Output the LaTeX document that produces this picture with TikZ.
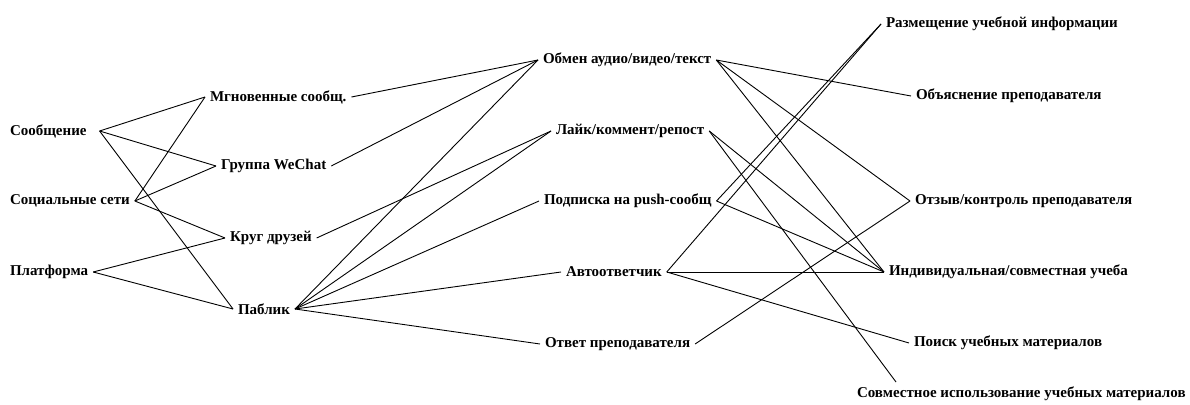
\documentclass[tikz,border=0pt]{standalone}
\usepackage{fontspec}
\setmainfont{Liberation Serif}
\begin{document}
\begin{tikzpicture}[x=1pt,y=-1pt,
  lbl/.style={anchor=west,inner sep=0pt,outer sep=5pt,font=\fontsize{15}{18}\selectfont\bfseries},
  link/.style={draw=black,line width=0.9pt}]
\useasboundingbox (0,0) rectangle (1190,404);
% column 1
\node[lbl] (c1a) at (5,131) {Сообщение};
\node[lbl] (c1b) at (5,201) {Социальные сети};
\node[lbl] (c1c) at (5,272) {Платформа};
\coordinate (c1aout) at ([xshift=8pt]c1a.east);
% column 2
\node[lbl] (c2a) at (205,97) {Мгновенные сообщ.};
\node[lbl] (c2b) at (216,166) {Группа WeChat};
\node[lbl] (c2c) at (225,238) {Круг друзей};
\node[lbl] (c2d) at (233,309) {Паблик};
% column 3
\node[lbl] (c3a) at (538,60) {Обмен аудио/видео/текст};
\node[lbl] (c3b) at (551,131) {Лайк/коммент/репост};
\node[lbl] (c3c) at (539,201) {Подписка на push-сообщ};
\node[lbl] (c3d) at (561,272) {Автоответчик};
\node[lbl] (c3e) at (540,344) {Ответ преподавателя};
% column 4
\node[lbl] (c4a) at (881,24) {Размещение учебной информации};
\node[lbl] (c4b) at (911,96) {Объяснение преподавателя};
\node[lbl] (c4c) at (910,201) {Отзыв/контроль преподавателя};
\node[lbl] (c4d) at (884,272) {Индивидуальная/совместная учеба};
\node[lbl] (c4e) at (909,343) {Поиск учебных материалов};
\node[lbl] (c4f) at (852,394) {Совместное использование учебных материалов};
\coordinate (c4fin) at ([xshift=44pt]c4f.north west);
% links column 1 -> 2
\draw[link] (c1aout) -- (c2a.west);
\draw[link] (c1aout) -- (c2b.west);
\draw[link] (c1aout) -- (c2d.west);
\draw[link] (c1b.east) -- (c2a.west);
\draw[link] (c1b.east) -- (c2b.west);
\draw[link] (c1b.east) -- (c2c.west);
\draw[link] (c1c.east) -- (c2c.west);
\draw[link] (c1c.east) -- (c2d.west);
% links column 2 -> 3
\draw[link] (c2a.east) -- (c3a.west);
\draw[link] (c2b.east) -- (c3a.west);
\draw[link] (c2c.east) -- (c3b.west);
\draw[link] (c2d.east) -- (c3a.west);
\draw[link] (c2d.east) -- (c3b.west);
\draw[link] (c2d.east) -- (c3c.west);
\draw[link] (c2d.east) -- (c3d.west);
\draw[link] (c2d.east) -- (c3e.west);
% links column 3 -> 4
\draw[link] (c3a.east) -- (c4b.west);
\draw[link] (c3a.east) -- (c4c.west);
\draw[link] (c3a.east) -- (c4d.west);
\draw[link] (c3b.east) -- (c4d.west);
\draw[link] (c3b.east) -- (c4fin);
\draw[link] (c3c.east) -- (c4a.west);
\draw[link] (c3c.east) -- (c4d.west);
\draw[link] (c3d.east) -- (c4a.west);
\draw[link] (c3d.east) -- (c4d.west);
\draw[link] (c3d.east) -- (c4e.west);
\draw[link] (c3e.east) -- (c4c.west);
\end{tikzpicture}
\end{document}
